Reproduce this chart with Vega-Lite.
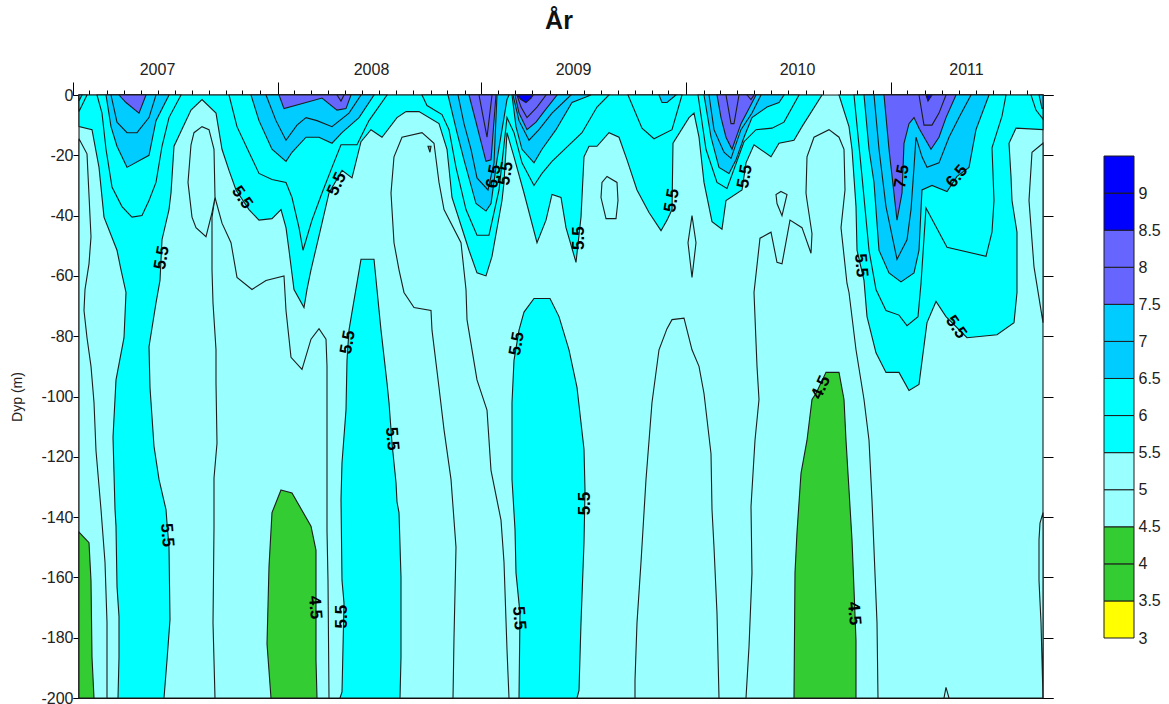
{"$schema":"https://vega.github.io/schema/vega-lite/v6.json","padding":{"left":10,"top":9,"right":0,"bottom":0},"background":"white","bounds":"flush","spacing":51,"config":{"font":"Liberation Sans","view":{"stroke":null}},"datasets":{"kontur":[
{"id":5.0,"uke":1.5,"dyp":0},{"id":5.0,"uke":242.5,"dyp":0},{"id":5.0,"uke":242.5,"dyp":-200},{"id":5.0,"uke":1.5,"dyp":-200},
{"id":5.01,"uke":1.5,"dyp":-14.5},{"id":5.01,"uke":3.5,"dyp":-19.5},{"id":5.01,"uke":4.5,"dyp":-47},{"id":5.01,"uke":4,"dyp":-56},{"id":5.01,"uke":3,"dyp":-64.5},{"id":5.01,"uke":2.75,"dyp":-71.5},{"id":5.01,"uke":3.5,"dyp":-80.5},{"id":5.01,"uke":4.5,"dyp":-90},{"id":5.01,"uke":5.25,"dyp":-102},{"id":5.01,"uke":5.75,"dyp":-118},{"id":5.01,"uke":7,"dyp":-137.5},{"id":5.01,"uke":8,"dyp":-155},{"id":5.01,"uke":8.5,"dyp":-175},{"id":5.01,"uke":8.5,"dyp":-200},{"id":5.01,"uke":1.5,"dyp":-200},
{"id":5.02,"uke":35.5,"dyp":-34},{"id":5.02,"uke":37.25,"dyp":-42.5},{"id":5.02,"uke":39.5,"dyp":-49},{"id":5.02,"uke":41,"dyp":-60.5},{"id":5.02,"uke":44.75,"dyp":-64.5},{"id":5.02,"uke":48.25,"dyp":-61.5},{"id":5.02,"uke":52.75,"dyp":-60},{"id":5.02,"uke":53.25,"dyp":-71.5},{"id":5.02,"uke":54.5,"dyp":-87},{"id":5.02,"uke":57.25,"dyp":-91},{"id":5.02,"uke":59.5,"dyp":-81},{"id":5.02,"uke":61.5,"dyp":-77.5},{"id":5.02,"uke":63.25,"dyp":-81},{"id":5.02,"uke":63.5,"dyp":-90},{"id":5.02,"uke":63.5,"dyp":-137.5},{"id":5.02,"uke":63.5,"dyp":-144.5},{"id":5.02,"uke":63.75,"dyp":-161},{"id":5.02,"uke":64,"dyp":-200},{"id":5.02,"uke":35.5,"dyp":-200},{"id":5.02,"uke":35,"dyp":-175},{"id":5.02,"uke":35.25,"dyp":-143.5},{"id":5.02,"uke":35.25,"dyp":-127},{"id":5.02,"uke":36,"dyp":-115.5},{"id":5.02,"uke":35.75,"dyp":-95.5},{"id":5.02,"uke":35.75,"dyp":-84.5},{"id":5.02,"uke":35,"dyp":-69},{"id":5.02,"uke":34.75,"dyp":-58},{"id":5.02,"uke":34.75,"dyp":-40.5},
{"id":5.03,"uke":32.25,"dyp":-10.5},{"id":5.03,"uke":30.25,"dyp":-12.5},{"id":5.03,"uke":29.5,"dyp":-16.5},{"id":5.03,"uke":28.75,"dyp":-29},{"id":5.03,"uke":29.75,"dyp":-40.5},{"id":5.03,"uke":30.75,"dyp":-44},{"id":5.03,"uke":33.25,"dyp":-47},{"id":5.03,"uke":34.75,"dyp":-39},{"id":5.03,"uke":35.5,"dyp":-34},{"id":5.03,"uke":35.25,"dyp":-18},{"id":5.03,"uke":34,"dyp":-11.5},
{"id":5.04,"uke":95,"dyp":-200},{"id":5.04,"uke":95.25,"dyp":-180},{"id":5.04,"uke":95.75,"dyp":-150},{"id":5.04,"uke":94.5,"dyp":-127.5},{"id":5.04,"uke":92.75,"dyp":-111},{"id":5.04,"uke":91.5,"dyp":-97},{"id":5.04,"uke":89.75,"dyp":-78},{"id":5.04,"uke":89.5,"dyp":-71.5},{"id":5.04,"uke":85.25,"dyp":-70.5},{"id":5.04,"uke":82.75,"dyp":-65.5},{"id":5.04,"uke":81.5,"dyp":-58},{"id":5.04,"uke":80.25,"dyp":-49},{"id":5.04,"uke":79.5,"dyp":-32.5},{"id":5.04,"uke":80.25,"dyp":-20.5},{"id":5.04,"uke":82.25,"dyp":-14},{"id":5.04,"uke":87.25,"dyp":-12.5},{"id":5.04,"uke":90.25,"dyp":-16},{"id":5.04,"uke":91.5,"dyp":-29},{"id":5.04,"uke":92.75,"dyp":-38},{"id":5.04,"uke":97,"dyp":-49},{"id":5.04,"uke":98.25,"dyp":-64.5},{"id":5.04,"uke":98.5,"dyp":-74.5},{"id":5.04,"uke":101,"dyp":-94.5},{"id":5.04,"uke":103.5,"dyp":-104.5},{"id":5.04,"uke":104.5,"dyp":-124.5},{"id":5.04,"uke":107,"dyp":-141},{"id":5.04,"uke":107.75,"dyp":-155},{"id":5.04,"uke":108.5,"dyp":-184},{"id":5.04,"uke":109,"dyp":-200},
{"id":5.05,"uke":140.5,"dyp":-200},{"id":5.05,"uke":140.5,"dyp":-194},{"id":5.05,"uke":141,"dyp":-175},{"id":5.05,"uke":142,"dyp":-155},{"id":5.05,"uke":143.25,"dyp":-127.5},{"id":5.05,"uke":144.75,"dyp":-102},{"id":5.05,"uke":146.5,"dyp":-84.5},{"id":5.05,"uke":148.5,"dyp":-77.5},{"id":5.05,"uke":149.75,"dyp":-74.5},{"id":5.05,"uke":152.75,"dyp":-74},{"id":5.05,"uke":154.75,"dyp":-84.5},{"id":5.05,"uke":156.5,"dyp":-90},{"id":5.05,"uke":157.75,"dyp":-99},{"id":5.05,"uke":159.5,"dyp":-119},{"id":5.05,"uke":159.75,"dyp":-137.5},{"id":5.05,"uke":160.25,"dyp":-150},{"id":5.05,"uke":161,"dyp":-172},{"id":5.05,"uke":161.5,"dyp":-200},
{"id":5.06,"uke":168.25,"dyp":-200},{"id":5.06,"uke":169,"dyp":-183},{"id":5.06,"uke":169.75,"dyp":-158.5},{"id":5.06,"uke":169.5,"dyp":-136.5},{"id":5.06,"uke":170.5,"dyp":-114.5},{"id":5.06,"uke":171.5,"dyp":-101},{"id":5.06,"uke":171,"dyp":-90},{"id":5.06,"uke":170.25,"dyp":-65.5},{"id":5.06,"uke":171.75,"dyp":-47.5},{"id":5.06,"uke":174.5,"dyp":-45.5},{"id":5.06,"uke":176,"dyp":-55.5},{"id":5.06,"uke":177.25,"dyp":-56},{"id":5.06,"uke":179.25,"dyp":-41.5},{"id":5.06,"uke":182.25,"dyp":-44},{"id":5.06,"uke":184.5,"dyp":-52.5},{"id":5.06,"uke":184.75,"dyp":-46},{"id":5.06,"uke":183.5,"dyp":-35},{"id":5.06,"uke":183.25,"dyp":-32.5},{"id":5.06,"uke":183.5,"dyp":-20.5},{"id":5.06,"uke":185.25,"dyp":-14},{"id":5.06,"uke":189,"dyp":-11.5},{"id":5.06,"uke":191.5,"dyp":-14},{"id":5.06,"uke":192.75,"dyp":-18},{"id":5.06,"uke":193,"dyp":-31.5},{"id":5.06,"uke":192,"dyp":-44},{"id":5.06,"uke":193.5,"dyp":-62.5},{"id":5.06,"uke":194,"dyp":-65.5},{"id":5.06,"uke":195.75,"dyp":-84.5},{"id":5.06,"uke":197.75,"dyp":-101},{"id":5.06,"uke":199,"dyp":-114.5},{"id":5.06,"uke":199.75,"dyp":-134.5},{"id":5.06,"uke":201,"dyp":-175},{"id":5.06,"uke":201.25,"dyp":-200},
{"id":5.07,"uke":242.5,"dyp":-16},{"id":5.07,"uke":239.75,"dyp":-19},{"id":5.07,"uke":239,"dyp":-35},{"id":5.07,"uke":240.25,"dyp":-57},{"id":5.07,"uke":242.5,"dyp":-75.5},
{"id":5.08,"uke":242.5,"dyp":-138.5},{"id":5.08,"uke":241.75,"dyp":-142},{"id":5.08,"uke":241.5,"dyp":-147.5},{"id":5.08,"uke":241.5,"dyp":-161},{"id":5.08,"uke":242,"dyp":-175},{"id":5.08,"uke":242.5,"dyp":-200},
{"id":5.09,"uke":218.25,"dyp":-196.5},{"id":5.09,"uke":217.75,"dyp":-200},{"id":5.09,"uke":219,"dyp":-200},
{"id":5.1,"uke":133.5,"dyp":-27},{"id":5.1,"uke":136,"dyp":-29},{"id":5.1,"uke":136.25,"dyp":-35},{"id":5.1,"uke":135.75,"dyp":-41},{"id":5.1,"uke":133.25,"dyp":-41},{"id":5.1,"uke":132,"dyp":-34},{"id":5.1,"uke":132.25,"dyp":-29},
{"id":5.11,"uke":154.75,"dyp":-40},{"id":5.11,"uke":153.75,"dyp":-49},{"id":5.11,"uke":154.75,"dyp":-60.5},{"id":5.11,"uke":155.75,"dyp":-49},
{"id":5.12,"uke":177,"dyp":-32},{"id":5.12,"uke":178.5,"dyp":-33},{"id":5.12,"uke":177.25,"dyp":-40},{"id":5.12,"uke":176,"dyp":-36},{"id":5.12,"uke":175.75,"dyp":-33},
{"id":5.51,"uke":1.5,"dyp":0},{"id":5.51,"uke":1.5,"dyp":-10.5},{"id":5.51,"uke":4.75,"dyp":-11.5},{"id":5.51,"uke":6.5,"dyp":-24},{"id":5.51,"uke":7.75,"dyp":-40.5},{"id":5.51,"uke":11,"dyp":-51.5},{"id":5.51,"uke":12,"dyp":-58},{"id":5.51,"uke":13.25,"dyp":-65.5},{"id":5.51,"uke":12.75,"dyp":-80.5},{"id":5.51,"uke":10.75,"dyp":-94.5},{"id":5.51,"uke":10,"dyp":-113.5},{"id":5.51,"uke":10.5,"dyp":-137.5},{"id":5.51,"uke":10.75,"dyp":-143},{"id":5.51,"uke":11,"dyp":-163},{"id":5.51,"uke":11.5,"dyp":-173},{"id":5.51,"uke":11.5,"dyp":-186.5},{"id":5.51,"uke":11.25,"dyp":-200},{"id":5.51,"uke":22.75,"dyp":-200},{"id":5.51,"uke":23.5,"dyp":-187.5},{"id":5.51,"uke":24.25,"dyp":-174},{"id":5.51,"uke":24,"dyp":-150},{"id":5.51,"uke":23.5,"dyp":-142},{"id":5.51,"uke":23.25,"dyp":-137.5},{"id":5.51,"uke":21.5,"dyp":-127.5},{"id":5.51,"uke":20.25,"dyp":-116.5},{"id":5.51,"uke":19.25,"dyp":-97},{"id":5.51,"uke":19,"dyp":-83.5},{"id":5.51,"uke":20.75,"dyp":-69},{"id":5.51,"uke":21.75,"dyp":-61.5},{"id":5.51,"uke":22.25,"dyp":-48},{"id":5.51,"uke":24,"dyp":-38},{"id":5.51,"uke":24.5,"dyp":-32.5},{"id":5.51,"uke":25.25,"dyp":-17},{"id":5.51,"uke":29.5,"dyp":-5},{"id":5.51,"uke":32.25,"dyp":-1.5},{"id":5.51,"uke":35.75,"dyp":-6},{"id":5.51,"uke":37.25,"dyp":-18},{"id":5.51,"uke":39,"dyp":-25},{"id":5.51,"uke":40.75,"dyp":-31.5},{"id":5.51,"uke":44,"dyp":-38},{"id":5.51,"uke":46.5,"dyp":-41.5},{"id":5.51,"uke":49.75,"dyp":-41},{"id":5.51,"uke":52,"dyp":-38},{"id":5.51,"uke":53.25,"dyp":-44},{"id":5.51,"uke":54,"dyp":-51.5},{"id":5.51,"uke":55.25,"dyp":-64.5},{"id":5.51,"uke":57.75,"dyp":-70.5},{"id":5.51,"uke":58.5,"dyp":-64.5},{"id":5.51,"uke":59.5,"dyp":-58},{"id":5.51,"uke":62.25,"dyp":-42.5},{"id":5.51,"uke":64,"dyp":-32.5},{"id":5.51,"uke":67.25,"dyp":-25},{"id":5.51,"uke":69.75,"dyp":-27.5},{"id":5.51,"uke":72,"dyp":-15.5},{"id":5.51,"uke":74.5,"dyp":-11.5},{"id":5.51,"uke":77.25,"dyp":-14},{"id":5.51,"uke":81,"dyp":-7.5},{"id":5.51,"uke":83.25,"dyp":-5.5},{"id":5.51,"uke":86.5,"dyp":-5.5},{"id":5.51,"uke":91.5,"dyp":-9.5},{"id":5.51,"uke":93.5,"dyp":-18},{"id":5.51,"uke":94.75,"dyp":-34},{"id":5.51,"uke":99,"dyp":-51.5},{"id":5.51,"uke":101,"dyp":-59},{"id":5.51,"uke":103.25,"dyp":-60},{"id":5.51,"uke":104.75,"dyp":-53.5},{"id":5.51,"uke":107.25,"dyp":-35},{"id":5.51,"uke":107.75,"dyp":-29},{"id":5.51,"uke":108.5,"dyp":-12.5},{"id":5.51,"uke":110.25,"dyp":-20.5},{"id":5.51,"uke":112.75,"dyp":-32.5},{"id":5.51,"uke":116,"dyp":-49},{"id":5.51,"uke":118.25,"dyp":-41.5},{"id":5.51,"uke":119.75,"dyp":-33},{"id":5.51,"uke":122,"dyp":-34},{"id":5.51,"uke":123.25,"dyp":-44},{"id":5.51,"uke":125.75,"dyp":-55.5},{"id":5.51,"uke":127,"dyp":-40.5},{"id":5.51,"uke":127.75,"dyp":-20.5},{"id":5.51,"uke":129,"dyp":-17},{"id":5.51,"uke":131,"dyp":-17},{"id":5.51,"uke":134,"dyp":-12.5},{"id":5.51,"uke":136.5,"dyp":-14},{"id":5.51,"uke":138.5,"dyp":-21.5},{"id":5.51,"uke":141,"dyp":-31.5},{"id":5.51,"uke":144,"dyp":-39},{"id":5.51,"uke":147,"dyp":-45},{"id":5.51,"uke":148.5,"dyp":-41.5},{"id":5.51,"uke":149.75,"dyp":-38},{"id":5.51,"uke":150,"dyp":-16},{"id":5.51,"uke":154,"dyp":-7.5},{"id":5.51,"uke":155.25,"dyp":-6},{"id":5.51,"uke":156.5,"dyp":-14},{"id":5.51,"uke":157.75,"dyp":-29},{"id":5.51,"uke":159.75,"dyp":-42},{"id":5.51,"uke":162.25,"dyp":-44.5},{"id":5.51,"uke":163.25,"dyp":-35},{"id":5.51,"uke":167.25,"dyp":-31.5},{"id":5.51,"uke":168.25,"dyp":-22.5},{"id":5.51,"uke":170.25,"dyp":-16.5},{"id":5.51,"uke":174.5,"dyp":-20.5},{"id":5.51,"uke":176.5,"dyp":-16},{"id":5.51,"uke":180.25,"dyp":-15},{"id":5.51,"uke":182.25,"dyp":-10.5},{"id":5.51,"uke":187.25,"dyp":0},
{"id":5.52,"uke":191.5,"dyp":0},{"id":5.52,"uke":194,"dyp":-10.5},{"id":5.52,"uke":194.75,"dyp":-18},{"id":5.52,"uke":195.75,"dyp":-37},{"id":5.52,"uke":196,"dyp":-51.5},{"id":5.52,"uke":197.75,"dyp":-61.5},{"id":5.52,"uke":198.5,"dyp":-73.5},{"id":5.52,"uke":200.75,"dyp":-85.5},{"id":5.52,"uke":203.25,"dyp":-92},{"id":5.52,"uke":206.5,"dyp":-92},{"id":5.52,"uke":209,"dyp":-98},{"id":5.52,"uke":211.5,"dyp":-96},{"id":5.52,"uke":213.5,"dyp":-75.5},{"id":5.52,"uke":215.75,"dyp":-68.5},{"id":5.52,"uke":218.25,"dyp":-73.5},{"id":5.52,"uke":223.5,"dyp":-80.5},{"id":5.52,"uke":231,"dyp":-79.5},{"id":5.52,"uke":235.25,"dyp":-75.5},{"id":5.52,"uke":236,"dyp":-65.5},{"id":5.52,"uke":236,"dyp":-45.5},{"id":5.52,"uke":234.75,"dyp":-35},{"id":5.52,"uke":234.5,"dyp":-27},{"id":5.52,"uke":234,"dyp":-16},{"id":5.52,"uke":235.75,"dyp":-11},{"id":5.52,"uke":242.5,"dyp":-11.5},{"id":5.52,"uke":242.5,"dyp":0},
{"id":5.53,"uke":72,"dyp":-54.5},{"id":5.53,"uke":75.25,"dyp":-54.5},{"id":5.53,"uke":77,"dyp":-78},{"id":5.53,"uke":78.5,"dyp":-95.5},{"id":5.53,"uke":79,"dyp":-102},{"id":5.53,"uke":79.75,"dyp":-115.5},{"id":5.53,"uke":80.75,"dyp":-128.5},{"id":5.53,"uke":81,"dyp":-135},{"id":5.53,"uke":81.5,"dyp":-138.5},{"id":5.53,"uke":82,"dyp":-160},{"id":5.53,"uke":82,"dyp":-186.5},{"id":5.53,"uke":81.75,"dyp":-200},{"id":5.53,"uke":66.75,"dyp":-200},{"id":5.53,"uke":67.25,"dyp":-198},{"id":5.53,"uke":67.75,"dyp":-168.5},{"id":5.53,"uke":67.25,"dyp":-161},{"id":5.53,"uke":67,"dyp":-134},{"id":5.53,"uke":67.25,"dyp":-122},{"id":5.53,"uke":68.25,"dyp":-104.5},{"id":5.53,"uke":68.5,"dyp":-88},{"id":5.53,"uke":69,"dyp":-78},{"id":5.53,"uke":69.75,"dyp":-72},
{"id":5.54,"uke":115.25,"dyp":-67.5},{"id":5.54,"uke":119.25,"dyp":-67.5},{"id":5.54,"uke":121.5,"dyp":-73.5},{"id":5.54,"uke":124,"dyp":-84.5},{"id":5.54,"uke":126,"dyp":-97},{"id":5.54,"uke":127.75,"dyp":-117.5},{"id":5.54,"uke":128,"dyp":-131},{"id":5.54,"uke":127.75,"dyp":-148.5},{"id":5.54,"uke":127,"dyp":-175},{"id":5.54,"uke":126.5,"dyp":-197.5},{"id":5.54,"uke":126,"dyp":-200},{"id":5.54,"uke":111.5,"dyp":-200},{"id":5.54,"uke":111.75,"dyp":-172},{"id":5.54,"uke":110.75,"dyp":-158.5},{"id":5.54,"uke":110.5,"dyp":-144},{"id":5.54,"uke":109.75,"dyp":-127.5},{"id":5.54,"uke":109.75,"dyp":-102},{"id":5.54,"uke":110.25,"dyp":-88},{"id":5.54,"uke":111.5,"dyp":-78},{"id":5.54,"uke":112.75,"dyp":-72},
{"id":6.01,"uke":6,"dyp":0},{"id":6.01,"uke":7.25,"dyp":-6},{"id":6.01,"uke":8.25,"dyp":-18},{"id":6.01,"uke":9.75,"dyp":-30.5},{"id":6.01,"uke":12.25,"dyp":-37},{"id":6.01,"uke":14.75,"dyp":-40.5},{"id":6.01,"uke":17.25,"dyp":-40},{"id":6.01,"uke":19,"dyp":-35},{"id":6.01,"uke":20.75,"dyp":-29},{"id":6.01,"uke":22.25,"dyp":-17},{"id":6.01,"uke":24,"dyp":-7.5},{"id":6.01,"uke":27,"dyp":0},
{"id":6.02,"uke":39,"dyp":0},{"id":6.02,"uke":41,"dyp":-10.5},{"id":6.02,"uke":44,"dyp":-19},{"id":6.02,"uke":46.5,"dyp":-26},{"id":6.02,"uke":49.75,"dyp":-28},{"id":6.02,"uke":53.25,"dyp":-29},{"id":6.02,"uke":54.75,"dyp":-34},{"id":6.02,"uke":56.5,"dyp":-44},{"id":6.02,"uke":57.5,"dyp":-51.5},{"id":6.02,"uke":59.75,"dyp":-41.5},{"id":6.02,"uke":62.25,"dyp":-32.5},{"id":6.02,"uke":64.75,"dyp":-24},{"id":6.02,"uke":67,"dyp":-16.5},{"id":6.02,"uke":71,"dyp":-16.5},{"id":6.02,"uke":74,"dyp":-8.5},{"id":6.02,"uke":78.5,"dyp":0},
{"id":6.03,"uke":87.25,"dyp":0},{"id":6.03,"uke":88.5,"dyp":-3.5},{"id":6.03,"uke":92.25,"dyp":-6.5},{"id":6.03,"uke":94,"dyp":-11.5},{"id":6.03,"uke":95.75,"dyp":-24},{"id":6.03,"uke":98.25,"dyp":-38},{"id":6.03,"uke":101,"dyp":-46.5},{"id":6.03,"uke":104,"dyp":-46.5},{"id":6.03,"uke":106.5,"dyp":-31.5},{"id":6.03,"uke":108.5,"dyp":-7.5},{"id":6.03,"uke":110.25,"dyp":-12.5},{"id":6.03,"uke":112.25,"dyp":-22.5},{"id":6.03,"uke":115.25,"dyp":-30},{"id":6.03,"uke":117.25,"dyp":-26},{"id":6.03,"uke":119.75,"dyp":-22},{"id":6.03,"uke":127.25,"dyp":-12.5},{"id":6.03,"uke":131,"dyp":-4},{"id":6.03,"uke":134,"dyp":0},
{"id":6.04,"uke":138.75,"dyp":0},{"id":6.04,"uke":142.25,"dyp":-11},{"id":6.04,"uke":145.25,"dyp":-14.5},{"id":6.04,"uke":149.75,"dyp":-11.5},{"id":6.04,"uke":152.25,"dyp":0},
{"id":6.05,"uke":156.25,"dyp":0},{"id":6.05,"uke":158.25,"dyp":-18},{"id":6.05,"uke":161,"dyp":-29},{"id":6.05,"uke":163.5,"dyp":-31},{"id":6.05,"uke":167.75,"dyp":-15.5},{"id":6.05,"uke":170.75,"dyp":-11.5},{"id":6.05,"uke":174.75,"dyp":-11},{"id":6.05,"uke":177.75,"dyp":-9},{"id":6.05,"uke":181.5,"dyp":0},
{"id":6.06,"uke":195.25,"dyp":0},{"id":6.06,"uke":197.25,"dyp":-27},{"id":6.06,"uke":199,"dyp":-51.5},{"id":6.06,"uke":200.75,"dyp":-64.5},{"id":6.06,"uke":203.25,"dyp":-71.5},{"id":6.06,"uke":206.5,"dyp":-73},{"id":6.06,"uke":208.5,"dyp":-76.5},{"id":6.06,"uke":211.25,"dyp":-73.5},{"id":6.06,"uke":212,"dyp":-62.5},{"id":6.06,"uke":213.25,"dyp":-37.5},{"id":6.06,"uke":218.5,"dyp":-50.5},{"id":6.06,"uke":228.25,"dyp":-53.5},{"id":6.06,"uke":229.75,"dyp":-45.5},{"id":6.06,"uke":230.25,"dyp":-35},{"id":6.06,"uke":229.75,"dyp":-17.5},{"id":6.06,"uke":232.25,"dyp":-7},{"id":6.06,"uke":233.25,"dyp":0},
{"id":6.07,"uke":239.5,"dyp":0},{"id":6.07,"uke":240.75,"dyp":-5},{"id":6.07,"uke":242.5,"dyp":-8},{"id":6.07,"uke":242.5,"dyp":0},
{"id":6.08,"uke":1.5,"dyp":-5.5},{"id":6.08,"uke":3.5,"dyp":0},{"id":6.08,"uke":1.5,"dyp":0},
{"id":6.51,"uke":8.25,"dyp":0},{"id":6.51,"uke":9.5,"dyp":-10.5},{"id":6.51,"uke":11,"dyp":-17},{"id":6.51,"uke":13.5,"dyp":-24},{"id":6.51,"uke":19,"dyp":-20},{"id":6.51,"uke":20.75,"dyp":-8.5},{"id":6.51,"uke":24,"dyp":0},
{"id":6.52,"uke":44.5,"dyp":0},{"id":6.52,"uke":46.5,"dyp":-8.5},{"id":6.52,"uke":49.75,"dyp":-18},{"id":6.52,"uke":53.25,"dyp":-22},{"id":6.52,"uke":54.75,"dyp":-19},{"id":6.52,"uke":58.25,"dyp":-14},{"id":6.52,"uke":61.5,"dyp":-14},{"id":6.52,"uke":64.75,"dyp":-16},{"id":6.52,"uke":67.25,"dyp":-12.5},{"id":6.52,"uke":71.5,"dyp":-7.5},{"id":6.52,"uke":75.25,"dyp":0},
{"id":6.53,"uke":93.75,"dyp":0},{"id":6.53,"uke":96,"dyp":-12.5},{"id":6.53,"uke":97.75,"dyp":-21.5},{"id":6.53,"uke":100.75,"dyp":-36},{"id":6.53,"uke":103.25,"dyp":-38.5},{"id":6.53,"uke":104.5,"dyp":-36},{"id":6.53,"uke":106,"dyp":-21.5},{"id":6.53,"uke":108.5,"dyp":-1.5},{"id":6.53,"uke":109,"dyp":0},
{"id":6.54,"uke":109.75,"dyp":0},{"id":6.54,"uke":110.75,"dyp":-10.5},{"id":6.54,"uke":112.25,"dyp":-18},{"id":6.54,"uke":115.25,"dyp":-22.5},{"id":6.54,"uke":117.25,"dyp":-18},{"id":6.54,"uke":120.75,"dyp":-11.5},{"id":6.54,"uke":124.75,"dyp":-2.5},{"id":6.54,"uke":129.5,"dyp":0},
{"id":6.55,"uke":146.5,"dyp":0},{"id":6.55,"uke":147.25,"dyp":-2.5},{"id":6.55,"uke":148.5,"dyp":-2.5},{"id":6.55,"uke":150.75,"dyp":0},
{"id":6.56,"uke":157.75,"dyp":0},{"id":6.56,"uke":159.5,"dyp":-14},{"id":6.56,"uke":161.5,"dyp":-24},{"id":6.56,"uke":164,"dyp":-26},{"id":6.56,"uke":165.75,"dyp":-21.5},{"id":6.56,"uke":167.75,"dyp":-14},{"id":6.56,"uke":169.75,"dyp":-7.5},{"id":6.56,"uke":173.5,"dyp":-4},{"id":6.56,"uke":176.5,"dyp":-2.5},{"id":6.56,"uke":177.75,"dyp":0},
{"id":6.57,"uke":197.75,"dyp":0},{"id":6.57,"uke":199,"dyp":-18},{"id":6.57,"uke":200.25,"dyp":-29},{"id":6.57,"uke":201.5,"dyp":-51.5},{"id":6.57,"uke":204,"dyp":-59},{"id":6.57,"uke":207,"dyp":-62},{"id":6.57,"uke":210.25,"dyp":-59},{"id":6.57,"uke":211.5,"dyp":-51.5},{"id":6.57,"uke":212,"dyp":-38},{"id":6.57,"uke":212.25,"dyp":-31.5},{"id":6.57,"uke":214.75,"dyp":-30},{"id":6.57,"uke":218.5,"dyp":-32},{"id":6.57,"uke":221,"dyp":-27},{"id":6.57,"uke":224,"dyp":-24},{"id":6.57,"uke":225.75,"dyp":-11.5},{"id":6.57,"uke":229,"dyp":0},
{"id":6.58,"uke":241.5,"dyp":0},{"id":6.58,"uke":242.25,"dyp":-4.5},{"id":6.58,"uke":242.5,"dyp":-4.5},{"id":6.58,"uke":242.5,"dyp":0},
{"id":6.59,"uke":1.5,"dyp":-2},{"id":6.59,"uke":2.25,"dyp":0},{"id":6.59,"uke":1.5,"dyp":0},
{"id":7.01,"uke":9.5,"dyp":0},{"id":7.01,"uke":11,"dyp":-9},{"id":7.01,"uke":13.5,"dyp":-12.5},{"id":7.01,"uke":16,"dyp":-12.5},{"id":7.01,"uke":19,"dyp":-7.5},{"id":7.01,"uke":20.75,"dyp":0},
{"id":7.02,"uke":48.25,"dyp":0},{"id":7.02,"uke":50.75,"dyp":-8.5},{"id":7.02,"uke":53.25,"dyp":-15},{"id":7.02,"uke":56,"dyp":-10},{"id":7.02,"uke":58.25,"dyp":-7.5},{"id":7.02,"uke":61,"dyp":-8.5},{"id":7.02,"uke":64.75,"dyp":-10.5},{"id":7.02,"uke":69,"dyp":-6},{"id":7.02,"uke":72,"dyp":0},
{"id":7.03,"uke":96.25,"dyp":0},{"id":7.03,"uke":97.75,"dyp":-9.5},{"id":7.03,"uke":99.5,"dyp":-18},{"id":7.03,"uke":101,"dyp":-27.5},{"id":7.03,"uke":103.75,"dyp":-31.5},{"id":7.03,"uke":105.25,"dyp":-22.5},{"id":7.03,"uke":106,"dyp":0},
{"id":7.04,"uke":110,"dyp":0},{"id":7.04,"uke":111.5,"dyp":-8.5},{"id":7.04,"uke":114,"dyp":-15},{"id":7.04,"uke":116.5,"dyp":-11.5},{"id":7.04,"uke":119.75,"dyp":-6},{"id":7.04,"uke":124.5,"dyp":0},
{"id":7.05,"uke":159,"dyp":0},{"id":7.05,"uke":160.25,"dyp":-11.5},{"id":7.05,"uke":162.75,"dyp":-19},{"id":7.05,"uke":164.5,"dyp":-21},{"id":7.05,"uke":167,"dyp":-11.5},{"id":7.05,"uke":169.75,"dyp":-6},{"id":7.05,"uke":172,"dyp":0},
{"id":7.06,"uke":200.25,"dyp":0},{"id":7.06,"uke":201.5,"dyp":-18},{"id":7.06,"uke":203.25,"dyp":-37},{"id":7.06,"uke":206,"dyp":-54.5},{"id":7.06,"uke":208.5,"dyp":-48},{"id":7.06,"uke":209.5,"dyp":-38},{"id":7.06,"uke":210.25,"dyp":-24},{"id":7.06,"uke":210.75,"dyp":-14},{"id":7.06,"uke":212.25,"dyp":-20.5},{"id":7.06,"uke":213.5,"dyp":-24},{"id":7.06,"uke":216.5,"dyp":-22.5},{"id":7.06,"uke":219,"dyp":-14},{"id":7.06,"uke":221.5,"dyp":-7.5},{"id":7.06,"uke":224.5,"dyp":0},
{"id":7.51,"uke":11.5,"dyp":0},{"id":7.51,"uke":13.25,"dyp":-2.5},{"id":7.51,"uke":16.5,"dyp":-6},{"id":7.51,"uke":18.25,"dyp":0},
{"id":7.52,"uke":51.5,"dyp":0},{"id":7.52,"uke":52.75,"dyp":-4.5},{"id":7.52,"uke":58.25,"dyp":-2.5},{"id":7.52,"uke":62.25,"dyp":-1},{"id":7.52,"uke":66,"dyp":-5},{"id":7.52,"uke":68.25,"dyp":-4.5},{"id":7.52,"uke":69.5,"dyp":0},
{"id":7.53,"uke":99,"dyp":0},{"id":7.53,"uke":100.75,"dyp":-9},{"id":7.53,"uke":103.25,"dyp":-22},{"id":7.53,"uke":104.5,"dyp":-21.5},{"id":7.53,"uke":105.75,"dyp":0},
{"id":7.54,"uke":110.5,"dyp":0},{"id":7.54,"uke":111.5,"dyp":-6},{"id":7.54,"uke":113.5,"dyp":-11.5},{"id":7.54,"uke":115.75,"dyp":-9},{"id":7.54,"uke":117.75,"dyp":-5.5},{"id":7.54,"uke":121,"dyp":0},
{"id":7.55,"uke":161,"dyp":0},{"id":7.55,"uke":162,"dyp":-7.5},{"id":7.55,"uke":163.25,"dyp":-14},{"id":7.55,"uke":164.75,"dyp":-18},{"id":7.55,"uke":167,"dyp":-9.5},{"id":7.55,"uke":169,"dyp":-4.5},{"id":7.55,"uke":170.75,"dyp":0},
{"id":7.56,"uke":202.75,"dyp":0},{"id":7.56,"uke":204,"dyp":-18},{"id":7.56,"uke":206,"dyp":-41.5},{"id":7.56,"uke":207.25,"dyp":-32.5},{"id":7.56,"uke":207.75,"dyp":-16},{"id":7.56,"uke":209,"dyp":-9.5},{"id":7.56,"uke":210.25,"dyp":-7.5},{"id":7.56,"uke":211.5,"dyp":-11},{"id":7.56,"uke":214.5,"dyp":-18},{"id":7.56,"uke":216.5,"dyp":-14},{"id":7.56,"uke":218.25,"dyp":-7.5},{"id":7.56,"uke":220.75,"dyp":0},
{"id":8.01,"uke":66,"dyp":0},{"id":8.01,"uke":67,"dyp":-2},{"id":8.01,"uke":67.75,"dyp":0},
{"id":8.02,"uke":101.5,"dyp":0},{"id":8.02,"uke":103.5,"dyp":-14},{"id":8.02,"uke":104.75,"dyp":0},
{"id":8.03,"uke":111,"dyp":0},{"id":8.03,"uke":112,"dyp":-4},{"id":8.03,"uke":113.5,"dyp":-7.5},{"id":8.03,"uke":116,"dyp":-4},{"id":8.03,"uke":118.25,"dyp":0},
{"id":8.04,"uke":163.25,"dyp":0},{"id":8.04,"uke":164.5,"dyp":-9.5},{"id":8.04,"uke":165.25,"dyp":-9.5},{"id":8.04,"uke":166.5,"dyp":0},
{"id":8.05,"uke":168.5,"dyp":0},{"id":8.05,"uke":169.5,"dyp":-1.5},{"id":8.05,"uke":170.25,"dyp":0},
{"id":8.06,"uke":211.5,"dyp":0},{"id":8.06,"uke":212.75,"dyp":-10},{"id":8.06,"uke":214.75,"dyp":-10},{"id":8.06,"uke":216.5,"dyp":-6},{"id":8.06,"uke":218.25,"dyp":0},
{"id":8.51,"uke":111,"dyp":0},{"id":8.51,"uke":112,"dyp":-1.5},{"id":8.51,"uke":113.25,"dyp":-2.5},{"id":8.51,"uke":114.5,"dyp":-1},{"id":8.51,"uke":115,"dyp":0},
{"id":8.52,"uke":213.25,"dyp":0},{"id":8.52,"uke":213.75,"dyp":-2},{"id":8.52,"uke":214.75,"dyp":0},
{"id":4.01,"uke":1.5,"dyp":-145},{"id":4.01,"uke":4,"dyp":-148.5},{"id":4.01,"uke":4.5,"dyp":-161},{"id":4.01,"uke":4.75,"dyp":-186.5},{"id":4.01,"uke":5.25,"dyp":-200},{"id":4.01,"uke":1.5,"dyp":-200},
{"id":4.02,"uke":52,"dyp":-131},{"id":4.02,"uke":54.75,"dyp":-132},{"id":4.02,"uke":59.5,"dyp":-143},{"id":4.02,"uke":60.75,"dyp":-151},{"id":4.02,"uke":60.75,"dyp":-187.5},{"id":4.02,"uke":61,"dyp":-200},{"id":4.02,"uke":49.5,"dyp":-200},{"id":4.02,"uke":48.5,"dyp":-182},{"id":4.02,"uke":49,"dyp":-156.5},{"id":4.02,"uke":49.75,"dyp":-138.5},
{"id":4.03,"uke":188.25,"dyp":-92},{"id":4.03,"uke":191.5,"dyp":-92},{"id":4.03,"uke":192.75,"dyp":-101},{"id":4.03,"uke":193.25,"dyp":-114.5},{"id":4.03,"uke":194.25,"dyp":-136.5},{"id":4.03,"uke":194.75,"dyp":-147.5},{"id":4.03,"uke":195.25,"dyp":-164},{"id":4.03,"uke":195.75,"dyp":-181},{"id":4.03,"uke":195.75,"dyp":-200},{"id":4.03,"uke":180.25,"dyp":-200},{"id":4.03,"uke":180.5,"dyp":-158.5},{"id":4.03,"uke":181,"dyp":-145},{"id":4.03,"uke":182,"dyp":-125.5},{"id":4.03,"uke":183.5,"dyp":-114.5},{"id":4.03,"uke":184.75,"dyp":-101},{"id":4.03,"uke":185.75,"dyp":-99},
{"id":4.04,"uke":88.75,"dyp":-17},{"id":4.04,"uke":89.5,"dyp":-17},{"id":4.04,"uke":89.25,"dyp":-19}
]},"hconcat":[{"width":980,"height":603,"title":{"text":"År","fontSize":25,"fontWeight":"bold","font":"Liberation Sans","color":"#111","dx":-4,"offset":14,"anchor":"middle"},"resolve":{"axis":{"x":"independent","y":"independent"}},"layer":[
{"data":{"name":"kontur"},"mark":{"type":"line","interpolate":"linear-closed","order":null,"stroke":"#1c1c1c","strokeWidth":1.1},"encoding":{
"x":{"field":"uke","type":"quantitative","scale":{"domain":[0,245],"nice":false,"zero":false},"axis":{"orient":"top","title":null,"grid":false,"domain":true,"domainColor":"#000","tickColor":"#000","labelFontSize":16,"labelColor":"#222","labelPadding":18,"labelOverlap":false,"labelBound":false,"labelFlush":false,
"values":[0,4,8.4,12.75,16.9,21,21.25,25.4,29.75,33.9,38.2,42.3,46.75,51.2,55.25,59.6,63.75,68,72.2,74.5,76.6,80.8,85,89.4,93.6,98,101.9,106.3,110.5,114.8,119.25,123.4,125,127.75,131.9,136.25,140.4,144.7,148.8,153.2,157.7,161.75,166.1,170.25,174.6,178.75,181,183.2,187.5,191.7,195.9,200.1,204.4,208.6,213,217.2,221.5,223.25,225.8,230,234.3,238.6],
"labelExpr":"datum.value==21?'2007':datum.value==74.5?'2008':datum.value==125?'2009':datum.value==181?'2010':datum.value==223.25?'2011':''",
"tickSize":{"condition":[{"test":"datum.value==0||datum.value==51.2||datum.value==101.9||datum.value==153.2||datum.value==204.4","value":13},{"test":"datum.value==21||datum.value==74.5||datum.value==125||datum.value==181||datum.value==223.25","value":0}],"value":5}}},
"y":{"field":"dyp","type":"quantitative","scale":{"domain":[-200,0],"nice":false,"zero":false},"axis":{"orient":"left","title":"Dyp (m)","titleFontSize":14,"titleFontWeight":"normal","titleColor":"#222","titlePadding":16,"grid":false,"domain":false,"tickColor":"#000","tickSize":-6,"labelPadding":6,"labelFontSize":16,"labelColor":"#222","values":[0,-20,-40,-60,-80,-100,-120,-140,-160,-180,-200],"labelExpr":"''+datum.value"}},
"detail":{"field":"id","type":"nominal"},
"fill":{"field":"id","type":"quantitative","legend":null,"scale":{"type":"threshold","domain":[3.5,4.5,5.5,6.5,7.5,8.5],"range":["#FFFF00","#33CC33","#99FFFF","#00FFFF","#00CCFF","#6666FF","#0000FF"]}}}},
{"data":{"values":[{"uke":22.25,"dyp":-54,"tekst":"5.5"},{"uke":68.75,"dyp":-82,"tekst":"5.5"},{"uke":111,"dyp":-82.5,"tekst":"5.5"},{"uke":149.75,"dyp":-35,"tekst":"5.5"},{"uke":105.25,"dyp":-27,"tekst":"6.5"},{"uke":108.25,"dyp":-26,"tekst":"5.5"},{"uke":207.25,"dyp":-27,"tekst":"7.5"},{"uke":168,"dyp":-27,"tekst":"5.5"}]},"mark":{"type":"text","angle":280,"fontSize":17,"fontWeight":"bold","font":"Liberation Sans","fill":"#000"},"encoding":{"x":{"field":"uke","type":"quantitative","axis":{"orient":"bottom","title":null,"labels":false,"ticks":false,"grid":false,"domain":true,"domainColor":"#000"}},"y":{"field":"dyp","type":"quantitative","axis":{"orient":"right","title":null,"labels":false,"grid":false,"domain":false,"tickColor":"#000","tickSize":-10,"values":[0,-20,-40,-60,-80,-100,-120,-140,-160,-180,-200]}},"text":{"field":"tekst"}}},
{"data":{"values":[{"uke":67.25,"dyp":-173,"tekst":"5.5"},{"uke":128,"dyp":-135.5,"tekst":"5.5"},{"uke":126.5,"dyp":-47.5,"tekst":"5.5"}]},"mark":{"type":"text","angle":270,"fontSize":17,"fontWeight":"bold","font":"Liberation Sans","fill":"#000"},"encoding":{"x":{"field":"uke","type":"quantitative","axis":null},"y":{"field":"dyp","type":"quantitative","axis":null},"text":{"field":"tekst"}}},
{"data":{"values":[{"uke":66,"dyp":-29.5,"tekst":"5.5"},{"uke":187,"dyp":-97,"tekst":"4.5"}]},"mark":{"type":"text","angle":295,"fontSize":17,"fontWeight":"bold","font":"Liberation Sans","fill":"#000"},"encoding":{"x":{"field":"uke","type":"quantitative","axis":null},"y":{"field":"dyp","type":"quantitative","axis":null},"text":{"field":"tekst"}}},
{"data":{"values":[{"uke":221,"dyp":-27,"tekst":"6.5"}]},"mark":{"type":"text","angle":310,"fontSize":17,"fontWeight":"bold","font":"Liberation Sans","fill":"#000"},"encoding":{"x":{"field":"uke","type":"quantitative","axis":null},"y":{"field":"dyp","type":"quantitative","axis":null},"text":{"field":"tekst"}}},
{"data":{"values":[{"uke":23.5,"dyp":-146,"tekst":"5.5"},{"uke":60.5,"dyp":-170,"tekst":"4.5"},{"uke":79.75,"dyp":-114,"tekst":"5.5"},{"uke":111.5,"dyp":-173.5,"tekst":"5.5"},{"uke":197,"dyp":-56.5,"tekst":"5.5"},{"uke":195.25,"dyp":-172,"tekst":"4.5"}]},"mark":{"type":"text","angle":85,"fontSize":17,"fontWeight":"bold","font":"Liberation Sans","fill":"#000"},"encoding":{"x":{"field":"uke","type":"quantitative","axis":null},"y":{"field":"dyp","type":"quantitative","axis":null},"text":{"field":"tekst"}}},
{"data":{"values":[{"uke":42.25,"dyp":-34,"tekst":"5.5"},{"uke":220.75,"dyp":-77,"tekst":"5.5"}]},"mark":{"type":"text","angle":55,"fontSize":17,"fontWeight":"bold","font":"Liberation Sans","fill":"#000"},"encoding":{"x":{"field":"uke","type":"quantitative","axis":null},"y":{"field":"dyp","type":"quantitative","axis":null},"text":{"field":"tekst"}}}
]},
{"width":30,"height":603,"data":{"values":[{"fra":3,"til":3.5},{"fra":3.5,"til":4},{"fra":4,"til":4.5},{"fra":4.5,"til":5},{"fra":5,"til":5.5},{"fra":5.5,"til":6},{"fra":6,"til":6.5},{"fra":6.5,"til":7},{"fra":7,"til":7.5},{"fra":7.5,"til":8},{"fra":8,"til":8.5},{"fra":8.5,"til":9},{"fra":9,"til":9.5}]},"mark":{"type":"rect","stroke":"#1c1c1c","strokeWidth":1},"encoding":{
"y":{"field":"fra","type":"quantitative","scale":{"domain":[2.191,10.323],"nice":false,"zero":false},"axis":{"orient":"right","title":null,"grid":false,"domain":false,"ticks":false,"labelPadding":4,"labelFontSize":16,"labelColor":"#222","values":[3,3.5,4,4.5,5,5.5,6,6.5,7,7.5,8,8.5,9],"labelExpr":"''+datum.value"}},
"y2":{"field":"til"},
"fill":{"field":"fra","type":"quantitative","legend":null,"scale":{"type":"threshold","domain":[3.5,4.5,5.5,6.5,7.5,8.5],"range":["#FFFF00","#33CC33","#99FFFF","#00FFFF","#00CCFF","#6666FF","#0000FF"]}}}}
]}
